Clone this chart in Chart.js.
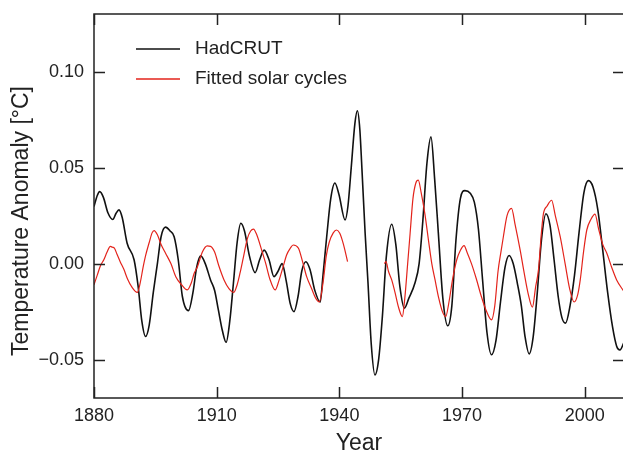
<!DOCTYPE html>
<html>
<head>
<meta charset="utf-8">
<script src="https://cdn.jsdelivr.net/npm/chart.js@4.4.1/dist/chart.umd.min.js"></script>
<style>
  html, body { margin: 0; padding: 0; overflow: hidden; background: #fff; }
  #wrap { width: 640px; height: 453px; }
</style>
</head>
<body>
<div id="wrap"><canvas id="tempChart" width="640" height="453"></canvas></div>
<script>
const xTicks = [1880, 1910, 1940, 1970, 2000];
const xTickLabels = ['1880', '1910', '1940', '1970', '2000'];
const yTicks = [-0.05, 0, 0.05, 0.10];
const yTickLabels = ['\u22120.05', '0.00', '0.05', '0.10'];
const xTitle = 'Year';
const yTitle = 'Temperature Anomaly [°C]';

const hadYears = [1880.0, 1880.8, 1881.4, 1882.3, 1883.4, 1884.6, 1885.4, 1886.1, 1886.9, 1888.1,
  1889.8, 1890.8, 1891.7, 1892.6, 1893.5, 1894.5, 1895.5, 1896.4, 1897.5, 1898.6,
  1899.6, 1900.6, 1901.6, 1903.1, 1904.2, 1905.1, 1906.1, 1907.2, 1908.5, 1909.5,
  1910.4, 1911.4, 1912.3, 1913.2, 1914.1, 1915.0, 1915.9, 1916.8, 1918.0, 1919.4,
  1920.5, 1921.6, 1922.8, 1924.0, 1925.0, 1926.0, 1927.0, 1928.0, 1928.9, 1929.9,
  1930.8, 1931.8, 1932.8, 1934.0, 1935.3, 1936.0, 1936.9, 1937.9, 1938.9, 1939.9,
  1941.4, 1942.1, 1942.9, 1943.8, 1944.4, 1945.0, 1945.5, 1946.3, 1947.0, 1947.8,
  1948.7, 1949.6, 1950.5, 1951.5, 1952.8, 1953.8, 1954.8, 1955.9, 1957.0, 1958.5,
  1959.5, 1960.4, 1961.4, 1962.4, 1963.3, 1964.2, 1965.3, 1966.5, 1967.5, 1968.5,
  1969.6, 1970.7, 1972.0, 1973.0, 1974.0, 1975.0, 1976.1, 1977.2, 1978.3, 1979.4,
  1980.5, 1981.5, 1982.5, 1983.5, 1984.5, 1985.4, 1986.4, 1987.4, 1988.4, 1989.4,
  1990.5, 1991.5, 1992.5, 1993.5, 1994.4, 1995.3, 1996.4, 1997.5, 1998.6, 1999.8,
  2000.9, 2002.0, 2003.2, 2004.4, 2005.6, 2006.8, 2007.8, 2008.6, 2009.6];
const hadValues = [0.0297, 0.0355, 0.0375, 0.0345, 0.0265, 0.0230, 0.0262, 0.0280, 0.0240, 0.0106,
  0.0020, -0.0120, -0.0300, -0.0380, -0.0320, -0.0150, 0.0000, 0.0140, 0.0190, 0.0170,
  0.0140, 0.0020, -0.0170, -0.0245, -0.0150, -0.0020, 0.0040, 0.0000, -0.0085, -0.0140,
  -0.0240, -0.0350, -0.0410, -0.0300, -0.0100, 0.0110, 0.0210, 0.0170, 0.0040, -0.0047,
  0.0020, 0.0070, 0.0020, -0.0068, -0.0040, 0.0000, -0.0090, -0.0210, -0.0250, -0.0170,
  -0.0040, 0.0010, -0.0030, -0.0140, -0.0200, -0.0060, 0.0140, 0.0340, 0.0420, 0.0360,
  0.0227, 0.0300, 0.0500, 0.0730, 0.0796, 0.0700, 0.0500, 0.0158, -0.0100, -0.0420,
  -0.0580, -0.0500, -0.0280, 0.0040, 0.0205, 0.0100, -0.0120, -0.0232, -0.0180, -0.0100,
  0.0000, 0.0220, 0.0520, 0.0660, 0.0440, 0.0160, -0.0180, -0.0324, -0.0220, 0.0120,
  0.0340, 0.0380, 0.0366, 0.0320, 0.0180, -0.0080, -0.0360, -0.0475, -0.0400, -0.0200,
  -0.0020, 0.0042, 0.0000, -0.0100, -0.0220, -0.0380, -0.0470, -0.0380, -0.0150, 0.0120,
  0.0260, 0.0200, 0.0020, -0.0170, -0.0280, -0.0310, -0.0220, -0.0060, 0.0160, 0.0370,
  0.0432, 0.0400, 0.0280, 0.0070, -0.0150, -0.0330, -0.0430, -0.0450, -0.0410];

// null at 1946 breaks the fitted curve (no fit 1942-1951)
const solarYears = [1880.0, 1880.8, 1881.6, 1882.4, 1883.2, 1884.0, 1884.5, 1885.0, 1885.6, 1886.4,
  1887.3, 1888.2, 1889.2, 1890.6, 1891.3, 1892.0, 1892.6, 1893.5, 1894.2, 1894.7,
  1895.5, 1896.4, 1897.5, 1898.8, 1900.0, 1901.4, 1902.8, 1903.8, 1904.5, 1905.3,
  1906.5, 1907.7, 1908.5, 1909.5, 1910.5, 1911.8, 1913.0, 1914.2, 1915.0, 1915.7,
  1916.5, 1917.5, 1918.3, 1919.0, 1919.8, 1921.0, 1922.0, 1923.0, 1924.3, 1925.2,
  1926.2, 1927.1, 1928.0, 1928.7, 1930.0, 1931.0, 1932.0, 1933.2, 1934.2, 1935.1,
  1936.0, 1936.8, 1937.5, 1938.5, 1939.3, 1940.1, 1941.0, 1942.0, 1946.0,
  1951.0, 1951.4, 1952.0, 1952.8, 1953.6, 1954.5, 1955.4, 1956.0, 1956.7, 1957.3,
  1958.0, 1958.7, 1959.3, 1960.0, 1960.9, 1961.8, 1962.6, 1963.4, 1964.3, 1965.2,
  1966.0, 1966.8, 1967.7, 1968.7, 1969.6, 1970.5, 1971.2, 1972.3, 1973.5, 1974.7,
  1976.0, 1977.2, 1978.0, 1978.8, 1979.5, 1980.1, 1981.0, 1982.1, 1983.0, 1984.2,
  1985.2, 1986.2, 1987.2, 1988.0, 1988.7, 1989.4, 1989.9, 1990.8, 1991.9, 1992.8,
  1994.0, 1995.2, 1996.3, 1997.4, 1998.3, 1998.9, 1999.7, 2000.5, 2001.5, 2002.5,
  2003.4, 2004.4, 2005.4, 2006.6, 2007.8, 2009.6];
const solarValues = [-0.0110, -0.0060, -0.0010, 0.0020, 0.0060, 0.0090, 0.0085, 0.0080, 0.0050, 0.0010,
  -0.0030, -0.0080, -0.0120, -0.0150, -0.0100, -0.0020, 0.0040, 0.0110, 0.0160, 0.0172,
  0.0150, 0.0100, 0.0054, 0.0000, -0.0068, -0.0110, -0.0137, -0.0100, -0.0050, -0.0016,
  0.0060, 0.0092, 0.0090, 0.0060, -0.0010, -0.0085, -0.0130, -0.0150, -0.0110, -0.0050,
  0.0030, 0.0130, 0.0170, 0.0180, 0.0150, 0.0070, 0.0000, -0.0080, -0.0137, -0.0090,
  -0.0020, 0.0045, 0.0080, 0.0097, 0.0080, 0.0010, -0.0068, -0.0130, -0.0180, -0.0200,
  -0.0100, 0.0040, 0.0110, 0.0160, 0.0175, 0.0158, 0.0100, 0.0010, null,
  0.0000, 0.0010, -0.0040, -0.0085, -0.0150, -0.0230, -0.0276, -0.0180, 0.0000, 0.0158,
  0.0340, 0.0420, 0.0435, 0.0370, 0.0260, 0.0120, 0.0000, -0.0085, -0.0180, -0.0250,
  -0.0276, -0.0200, -0.0080, 0.0020, 0.0070, 0.0094, 0.0060, 0.0000, -0.0080, -0.0170,
  -0.0250, -0.0293, -0.0220, -0.0040, 0.0060, 0.0140, 0.0250, 0.0288, 0.0200, 0.0071,
  -0.0050, -0.0160, -0.0227, -0.0120, -0.0030, 0.0160, 0.0260, 0.0300, 0.0330, 0.0250,
  0.0140, 0.0000, -0.0130, -0.0200, -0.0160, -0.0085, 0.0060, 0.0175, 0.0230, 0.0258,
  0.0180, 0.0100, 0.0054, -0.0020, -0.0085, -0.0146];

const legendItems = [
  { label: 'HadCRUT', color: '#111' },
  { label: 'Fitted solar cycles', color: '#e3231b' }
];

const FONT = '"Liberation Sans", Arial, sans-serif';
const INK = '#222';

// box, inward ticks on all four sides, y title and the legend
const framePlugin = {
  id: 'frame',
  afterDatasetsDraw(chart) {
    const { ctx, chartArea: a, scales: { x, y } } = chart;
    ctx.save();
    ctx.strokeStyle = INK;
    ctx.lineWidth = 1.5;
    ctx.strokeRect(a.left, a.top, a.right - a.left, a.bottom - a.top);
    ctx.beginPath();
    xTicks.forEach(v => {
      const px = Math.round(x.getPixelForValue(v)) + 0.5;
      ctx.moveTo(px, a.bottom); ctx.lineTo(px, a.bottom - 11);
      ctx.moveTo(px, a.top); ctx.lineTo(px, a.top + 11);
    });
    yTicks.forEach(v => {
      const py = Math.round(y.getPixelForValue(v)) + 0.5;
      ctx.moveTo(a.left, py); ctx.lineTo(a.left + 11, py);
      ctx.moveTo(a.right, py); ctx.lineTo(a.right - 11, py);
    });
    ctx.stroke();

    // y title sits a bit below the middle of the axis in the original
    ctx.save();
    ctx.translate(22, 221);
    ctx.rotate(-Math.PI / 2);
    ctx.font = '23px ' + FONT;
    ctx.fillStyle = INK;
    ctx.textAlign = 'center';
    ctx.textBaseline = 'middle';
    ctx.fillText(yTitle, 0, 0);
    ctx.restore();

    ctx.font = '19px ' + FONT;
    ctx.textBaseline = 'middle';
    ctx.textAlign = 'left';
    legendItems.forEach((item, i) => {
      const ly = a.top + 35 + i * 30;
      ctx.strokeStyle = item.color;
      ctx.lineWidth = 1.3;
      ctx.beginPath();
      ctx.moveTo(a.left + 42, ly);
      ctx.lineTo(a.left + 86, ly);
      ctx.stroke();
      ctx.fillStyle = INK;
      ctx.fillText(item.label, a.left + 101, ly);
    });
    ctx.restore();
  }
};

function initChart() {
  const ctx = document.getElementById('tempChart').getContext('2d');
  return new Chart(ctx, {
    type: 'line',
    data: {
      datasets: [{
        label: 'Fitted solar cycles',
        data: solarYears.map((yr, i) => ({ x: yr, y: solarValues[i] })),
        borderColor: legendItems[1].color,
        borderWidth: 1.2,
        pointRadius: 0,
        cubicInterpolationMode: 'monotone',
        spanGaps: false
      }, {
        label: 'HadCRUT',
        data: hadYears.map((yr, i) => ({ x: yr, y: hadValues[i] })),
        borderColor: legendItems[0].color,
        borderWidth: 1.6,
        pointRadius: 0,
        cubicInterpolationMode: 'monotone'
      }]
    },
    options: {
      responsive: false,
      animation: false,
      events: [],
      layout: { padding: { top: 14, right: 16, left: 0, bottom: 0 } },
      plugins: {
        legend: { display: false },
        tooltip: { enabled: false }
      },
      scales: {
        x: {
          type: 'linear',
          min: 1880,
          max: 2009.6,
          afterBuildTicks: s => { s.ticks = xTicks.map(v => ({ value: v })); },
          afterFit: s => { s.height = 55; s.paddingLeft = 0; s.paddingRight = 0; },
          grid: { display: false, drawTicks: false },
          border: { display: false },
          ticks: {
            callback: (v, i) => xTickLabels[i],
            color: INK,
            font: { family: FONT, size: 18 },
            padding: 7,
            maxRotation: 0,
            autoSkip: false
          },
          title: {
            display: true,
            text: xTitle,
            color: INK,
            font: { family: FONT, size: 23 },
            padding: { top: 0, bottom: -4 }
          }
        },
        y: {
          min: -0.07,
          max: 0.13,
          afterBuildTicks: s => { s.ticks = yTicks.map(v => ({ value: v })); },
          afterFit: s => { s.width = 94; s.paddingTop = 0; s.paddingBottom = 0; },
          grid: { display: false, drawTicks: false },
          border: { display: false },
          ticks: {
            callback: (v, i) => yTickLabels[i],
            color: INK,
            font: { family: FONT, size: 18 },
            padding: 10
          }
        }
      }
    },
    plugins: [framePlugin]
  });
}

initChart();
</script>
</body>
</html>
